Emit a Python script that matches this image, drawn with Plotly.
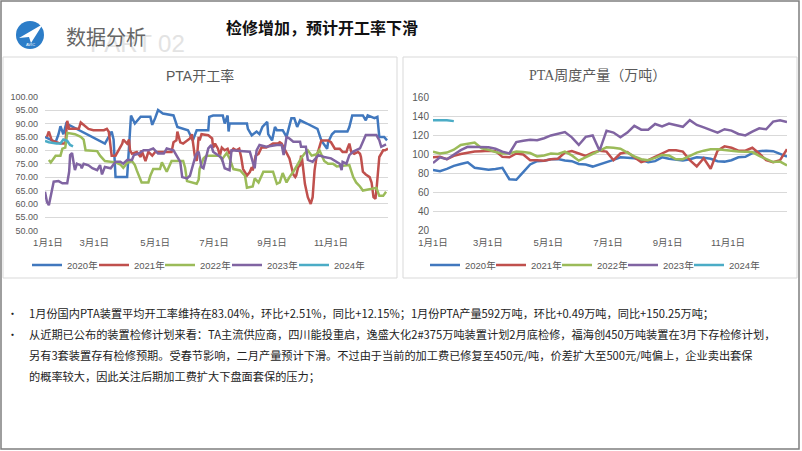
import plotly.graph_objects as go

W, H = 802, 451

# ---- 左图：PTA开工率（日度，x 为一年中的第几天） ----
RATE_2020 = [(8, 85), (14, 84), (19, 83), (22, 86), (24, 89), (27, 86), (30, 90),
             (70, 82.5), (77, 87), (79, 84), (81, 70), (93, 70), (97, 93), (101, 90),
             (107, 92.5), (117, 92.5), (119, 89.5), (122, 92), (125, 95), (130, 93.7),
             (141, 93), (145, 88.7), (156, 87.5), (158, 86), (161, 83.7), (165, 87.5),
             (177, 87.5), (178, 92.5), (182, 93), (192, 93), (194, 90), (197, 93),
             (198, 87), (199, 90), (217, 90), (218, 88), (222, 85.6), (227, 87),
             (230, 86), (233, 88.7), (238, 90.6), (239, 86), (243, 83.7), (246, 88.7),
             (248, 87.5), (254, 87.5), (258, 85), (263, 92), (266, 92), (269, 88.7),
             (272, 91.2), (279, 90), (290, 88), (294, 83.7), (300, 80.6), (301, 83),
             (305, 86), (308, 87), (321, 87), (323, 88.7), (326, 93), (337, 93),
             (340, 91.2), (342, 93), (349, 92), (352, 92.5), (354, 85), (359, 85),
             (362, 83.7)]
RATE_2021 = [(10, 85), (12, 87), (15, 83.7), (24, 82.5), (29, 82.5), (31, 91), (33, 88),
             (43, 88), (45, 90.4), (48, 89.4), (53, 88), (58, 87.5), (69, 87.5), (72, 88),
             (74, 86.9), (76, 81), (77, 78), (81, 78), (84, 80), (88, 82.5), (89, 84),
             (93, 82.5), (95, 84), (96, 80), (98, 78.7), (103, 79.4), (107, 77.5),
             (108, 80), (112, 76), (115, 79.4), (119, 78), (122, 79.4), (131, 79.4),
             (139, 79.4), (141, 83), (144, 83.7), (145, 87), (148, 83), (151, 82.5),
             (155, 83.7), (158, 84.4), (160, 86), (163, 78), (165, 76), (167, 85),
             (168, 83.7), (170, 86), (177, 85.6), (179, 85), (181, 84.4), (182, 81),
             (184, 82.5), (187, 80.6), (189, 78), (191, 81), (194, 80), (197, 80.6),
             (199, 78.7), (203, 80.6), (206, 80), (209, 80.6), (211, 77.5), (213, 73),
             (217, 70.6), (220, 71.9), (222, 73.7), (223, 72.5), (226, 78), (229, 78.7),
             (232, 81), (237, 81), (244, 82.5), (249, 82.5), (251, 83), (253, 82.5),
             (256, 80.6), (261, 77), (265, 71), (267, 70), (268, 70.6), (270, 73.7),
             (272, 74.4), (273, 78), (274, 76.9), (277, 67.5), (280, 62.5), (283, 60),
             (285, 62.5), (287, 72.5), (289, 77.5), (291, 80), (294, 83.7), (301, 83.7),
             (304, 83), (308, 80.6), (313, 80.6), (316, 79.4), (320, 79.4), (321, 80.6),
             (323, 82.5), (325, 79.4), (328, 78.7), (332, 79.4), (334, 78.7), (335, 77.5),
             (337, 72), (340, 71), (344, 70), (346, 68), (348, 62.5), (350, 61.9),
             (351, 65), (354, 77.5), (358, 80), (360, 80), (363, 80.6)]
RATE_2022 = [(12, 76.4), (14, 75.5), (19, 78), (24, 78), (26, 80.6), (29, 81), (31, 86.5),
             (39, 86), (45, 85), (48, 84), (50, 80), (62, 79.7), (65, 78), (70, 76),
             (81, 75.5), (86, 74.7), (89, 73.5), (93, 75.3), (98, 76), (101, 74.5),
             (103, 72.5), (108, 68), (115, 68), (117, 70.5), (120, 73), (127, 73),
             (129, 75.5), (134, 72), (139, 76), (151, 76), (153, 73.5), (155, 68.5),
             (165, 67.5), (167, 69), (168, 73), (172, 77), (175, 78), (189, 78),
             (191, 76.5), (193, 77.5), (196, 79), (199, 77), (203, 73), (210, 72.5),
             (215, 70.5), (217, 66), (223, 66.5), (225, 69.5), (229, 68), (234, 72),
             (244, 72), (248, 67.5), (251, 68), (254, 71.5), (258, 68), (261, 70),
             (265, 72), (270, 75), (273, 77), (277, 79), (280, 80), (284, 78),
             (289, 78.5), (292, 80), (297, 76), (301, 75), (306, 75), (310, 74),
             (323, 74.5), (327, 70), (330, 68), (334, 66.5), (337, 65), (351, 66),
             (354, 63), (358, 63), (361, 64.5)]
RATE_2023 = [(8, 64.5), (10, 60.8), (12, 59.5), (14, 63.3), (15, 64.6), (17, 68.3),
             (22, 68.5), (26, 67.7), (31, 67.7), (33, 72), (34, 78.2), (36, 79),
             (38, 74.5), (39, 72.6), (41, 75), (45, 74.4), (46, 73.3), (48, 75),
             (53, 74.4), (57, 73.3), (62, 72.6), (65, 74.5), (67, 71), (70, 73.8),
             (76, 73.3), (81, 75.7), (86, 75.7), (89, 75), (93, 76.4), (98, 76.4),
             (100, 78.2), (105, 78.8), (110, 80), (115, 80), (120, 80.7), (125, 78.8),
             (131, 78.8), (134, 80.7), (141, 80), (144, 78.2), (148, 75.7), (150, 70),
             (155, 69.5), (158, 70.5), (162, 75.7), (164, 78.2), (167, 79.5), (170, 73.8),
             (172, 73.3), (175, 78.2), (177, 80.7), (180, 82), (182, 79.5), (187, 78.2),
             (191, 77), (194, 73.3), (199, 72.6), (201, 80), (217, 79.5), (220, 79.5),
             (223, 75.7), (225, 73.3), (227, 80), (230, 82), (237, 81.3), (248, 82),
             (253, 82), (255, 78.2), (258, 85), (261, 84.4), (265, 83.2), (272, 83.2),
             (273, 81.3), (278, 81.3), (280, 76.4), (285, 75.7), (291, 78.2), (297, 77.5),
             (304, 77), (309, 75.7), (313, 75), (315, 72.6), (316, 75.7), (320, 75),
             (323, 78.2), (327, 79.5), (334, 80.7), (337, 83.2), (340, 85.7), (351, 85.7),
             (354, 83.8), (356, 81.3), (361, 82.2)]
RATE_2024 = [(8, 83.5), (12, 83), (20, 82.5), (24, 82.5), (27, 84), (31, 83.5),
             (34, 82), (37, 81.5)]

# ---- 右图：PTA周度产量（万吨），第 1..52 周 ----
WEEKS = list(range(1, 53))
OUT_2020 = [83.8, 82.5, 84.8, 88, 90, 91.8, 86, 84.8, 84, 84.8,
            86, 74, 73.5, 81.5, 89.5, 93, 93.5, 95, 95.3, 93.6,
            93, 90, 89.5, 87.3, 89.5, 91.8, 94.3, 97, 96.5, 96,
            94.3, 91.8, 93, 97, 95.5, 94.5, 93.6, 95, 97, 96.5,
            95.5, 93, 92.5, 94, 97, 97.5, 101.3, 103.4, 104, 103.5,
            100.6, 97.8]
OUT_2021 = [97, 97.5, 95, 98.5, 100.5, 102, 103, 103.5, 104, 103.5,
            97.5, 97, 101, 100, 94, 94, 93.5, 95, 95.5, 102,
            103.5, 101, 98.5, 102, 104, 103, 94, 101, 102.5, 97,
            92, 94, 97.5, 100.5, 104.5, 104.5, 103, 94, 87.5, 96,
            85, 104, 108.5, 107, 104, 104, 107, 101, 94, 92,
            94, 105.5]
OUT_2022 = [103, 101, 102, 105, 110, 111.5, 112.5, 106.5, 105, 102.5,
            101, 101, 103, 102.5, 101.5, 98, 99, 101, 100.5, 103,
            99, 93.5, 97, 100.5, 104, 107.5, 107, 106, 102, 98,
            95, 94, 96.5, 99.5, 99, 95, 95, 98.5, 102, 104,
            105.5, 105.5, 105, 104, 103, 102.5, 102.5, 98.5, 95, 92,
            92.5, 88.5]
OUT_2023 = [91, 97, 95, 99.5, 104.5, 108, 108, 108, 107.5, 106,
            103, 101, 113, 114.5, 115.5, 115, 117, 120, 121.5, 123.5,
            118, 110, 118.5, 120, 104, 125, 123, 118, 123, 130,
            126, 126, 132, 129.5, 132.5, 131, 129, 136, 131, 128.5,
            125.5, 123, 126.5, 125, 121.5, 120, 124, 127.5, 126.5, 134.5,
            136, 134]
OUT_2024 = [136, 136, 135.8, 135]

YEARS = ['2020年', '2021年', '2022年', '2023年', '2024年']
COLORS = ['#4178BE', '#C0504D', '#9BBB59', '#8064A2', '#4BACC6']
MONTH_LABELS = ['1月1日', '3月1日', '5月1日', '7月1日', '9月1日', '11月1日']
LEFT_TICKS = [11, 59, 122, 183, 243, 304]
RIGHT_TICKS = [1, 8.9, 17.6, 26.2, 34.8, 43.5]

BULLETS = [
    '1月份国内PTA装置平均开工率维持在83.04%，环比+2.51%，同比+12.15%；1月份PTA产量592万吨，环比+0.49万吨，同比+150.25万吨；',
    '从近期已公布的装置检修计划来看：TA主流供应商，四川能投重启，逸盛大化2#375万吨装置计划2月底检修，福海创450万吨装置在3月下存检修计划，',
    '另有3套装置存有检修预期。受春节影响，二月产量预计下滑。不过由于当前的加工费已修复至450元/吨，价差扩大至500元/吨偏上，企业卖出套保',
    '的概率较大，因此关注后期加工费扩大下盘面套保的压力；',
]

CJK = 'Noto Sans CJK SC'
GRAY = '#595959'

# 图例文字的左端（像素），每个年份单独一个图例
LEFT_LEGEND_X = [67, 134, 200, 267, 334]
RIGHT_LEGEND_X = [465, 531, 597, 663, 729]


def px(x):
    return x / W


def py(y):
    return 1 - y / H


def note(text, x, y, size, color, family=CJK, xanchor='left'):
    return dict(text=text, xref='paper', yref='paper', x=px(x), y=py(y),
                xanchor=xanchor, yanchor='middle', showarrow=False,
                font=dict(family=family, size=size, color=color))


fig = go.Figure()
legends = {}

for i, (name, color, series) in enumerate(zip(
        YEARS, COLORS, [RATE_2020, RATE_2021, RATE_2022, RATE_2023, RATE_2024])):
    key = 'legend' if i == 0 else f'legend{i + 1}'
    fig.add_trace(go.Scatter(
        x=[d for d, _ in series], y=[v for _, v in series],
        mode='lines', name=name, line=dict(color=color, width=2.5),
        xaxis='x', yaxis='y', legend=key,
    ))
    legends[key] = LEFT_LEGEND_X[i]

for i, (name, color, series) in enumerate(zip(
        YEARS, COLORS, [OUT_2020, OUT_2021, OUT_2022, OUT_2023, OUT_2024])):
    key = f'legend{i + 6}'
    fig.add_trace(go.Scatter(
        x=WEEKS[:len(series)], y=series,
        mode='lines', name=name, line=dict(color=color, width=2.5),
        xaxis='x2', yaxis='y2', legend=key,
    ))
    legends[key] = RIGHT_LEGEND_X[i]

axis_font = dict(family='Liberation Sans, ' + CJK, size=9.5, color=GRAY)
legend_layout = {
    key: dict(orientation='h', xanchor='left', yanchor='middle', xref='paper', yref='paper',
              x=px(tx - 40), y=py(265),
              font=dict(family='Liberation Sans, ' + CJK, size=9.5, color=GRAY),
              bgcolor='rgba(0,0,0,0)', itemwidth=30)
    for key, tx in legends.items()
}

shapes = [
    # 页面边框与图表外框
    dict(type='rect', xref='paper', yref='paper', x0=px(1), x1=px(799), y0=py(449), y1=py(1),
         line=dict(color='#7f7f7f', width=1.5)),
    dict(type='rect', xref='paper', yref='paper', x0=px(3), x1=px(397), y0=py(278), y1=py(57),
         line=dict(color='#d9d9d9', width=1)),
    dict(type='rect', xref='paper', yref='paper', x0=px(403), x1=px(797), y0=py(278), y1=py(57),
         line=dict(color='#d9d9d9', width=1)),
    # logo
    dict(type='circle', xref='paper', yref='paper', x0=px(16), x1=px(44), y0=py(49), y1=py(21),
         fillcolor='#2C7DC8', line=dict(color='#2C7DC8', width=0)),
    dict(type='path', xref='paper', yref='paper',
         path=f'M {px(19)} {py(38)} L {px(43)} {py(24)} L {px(31)} {py(43)} L {px(29)} {py(37)} Z',
         fillcolor='white', line=dict(color='white', width=0)),
]

annotations = [
    note('PART 02', 88, 44, 24, '#e3e3e3', family='Liberation Sans'),
    note('数据分析', 64, 36, 20, '#666666'),
    note('AVIC', 30, 45, 4, 'white', family='Liberation Sans', xanchor='center'),
    note('<b>检修增加，预计开工率下滑</b>', 224, 27, 16, '#111111'),
    note('PTA开工率', 200, 76, 14, GRAY, family='Liberation Sans, ' + CJK, xanchor='center'),
    note('PTA周度产量（万吨）', 597, 76, 14, GRAY, family='Liberation Serif, ' + CJK,
         xanchor='center'),
]
for y, text in zip([313, 334, 355, 376], BULLETS):
    annotations.append(note(text, 27, y, 11.2, '#222222'))
for y in [313, 334]:
    annotations.append(note('•', 5, y, 11, '#222222'))

fig.update_layout(
    width=W, height=H, autosize=False,
    margin=dict(l=0, r=0, t=0, b=0, pad=0, autoexpand=False),
    paper_bgcolor='white', plot_bgcolor='white',
    showlegend=True,
    xaxis=dict(domain=[px(45), px(388)], range=[8, 363], tickvals=LEFT_TICKS,
               ticktext=MONTH_LABELS, showgrid=False, zeroline=False, showline=False,
               ticks='', tickfont=axis_font, anchor='y', ticklabelstandoff=5),
    yaxis=dict(domain=[py(230.7), py(96.7)], range=[50, 100], dtick=5, tick0=50,
               tickformat='.2f', gridcolor='#d9d9d9', gridwidth=1, zeroline=False,
               showline=False, ticks='', tickfont=dict(family='Liberation Sans', size=9, color=GRAY),
               anchor='x', ticklabelstandoff=6),
    xaxis2=dict(domain=[px(433), px(787)], range=[1, 52], tickvals=RIGHT_TICKS,
                ticktext=MONTH_LABELS, showgrid=False, zeroline=False, showline=False,
                ticks='', tickfont=axis_font, anchor='y2', ticklabelstandoff=5),
    yaxis2=dict(domain=[py(230.7), py(97.3)], range=[20, 160], dtick=20, tick0=20,
                gridcolor='#d9d9d9', gridwidth=1, zeroline=False, showline=False, ticks='',
                tickfont=dict(family='Liberation Sans', size=10, color=GRAY),
                anchor='x2', ticklabelstandoff=3),
    shapes=shapes,
    annotations=annotations,
    **legend_layout,
)

# 去掉页面默认边距和工具栏，让图正好占满 802x451 窗口
fig.write_html('out.html', config={'displayModeBar': False},
               post_script="document.body.style.margin='0px';")
